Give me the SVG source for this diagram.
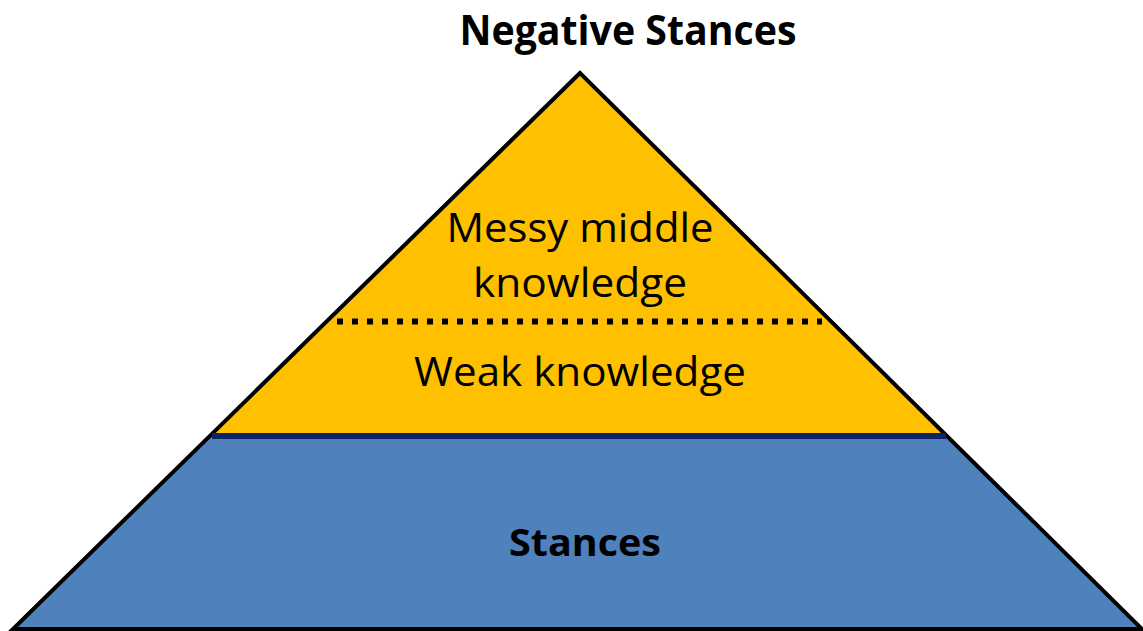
<svg xmlns="http://www.w3.org/2000/svg" width="1143" height="631" viewBox="0 0 1143 631">
  <defs>
    <style>
      .lbl { font-family: "Open Sans", "Liberation Sans", sans-serif; fill: #000; text-anchor: middle; }
      .bold { font-weight: 700; }
    </style>
    <filter id="soft" x="-5%" y="-200%" width="110%" height="500%">
      <feGaussianBlur stdDeviation="1.5"/>
    </filter>
  </defs>

  <rect width="1143" height="631" fill="#ffffff"/>

  <!-- upper band: knowledge levels -->
  <g id="knowledge-band">
    <polygon points="580,73 211,436 946,436" fill="#FFC000"/>
  </g>

  <!-- lower band: stances -->
  <g id="stances-band">
    <polygon points="211,436 946,436 1142,629 13,629" fill="#4F81BD"/>
  </g>

  <!-- pyramid outline -->
  <g id="pyramid-outline">
    <polygon points="580,73 13,629 1142,629" fill="none" stroke="#000" stroke-width="4" stroke-linejoin="miter"/>
  </g>

  <g id="connectors">
    <!-- solid divider between knowledge and stances -->
    <line x1="212" y1="436" x2="946" y2="436" stroke="#0B2463" stroke-width="6"/>
    <!-- dotted divider inside the knowledge band, with soft shadow -->
    <line x1="337" y1="325" x2="822" y2="325" stroke="#8a6a00" stroke-opacity="0.5" stroke-width="6" stroke-dasharray="6,9" filter="url(#soft)"/>
    <line x1="337" y1="321.5" x2="822" y2="321.5" stroke="#000" stroke-width="6" stroke-dasharray="6,9"/>
  </g>

  <g id="title">
    <text class="lbl bold" x="628" y="45" font-size="42" textLength="337" lengthAdjust="spacingAndGlyphs">Negative Stances</text>
  </g>

  <g id="messy-middle">
    <text class="lbl" x="580" y="242" font-size="41" textLength="267" lengthAdjust="spacingAndGlyphs">Messy middle</text>
    <text class="lbl" x="580" y="297" font-size="41" textLength="214" lengthAdjust="spacingAndGlyphs">knowledge</text>
  </g>

  <g id="weak-knowledge">
    <text class="lbl" x="580" y="386" font-size="41" textLength="332" lengthAdjust="spacingAndGlyphs">Weak knowledge</text>
  </g>

  <g id="stances">
    <text class="lbl bold" x="585" y="556" font-size="38" textLength="152" lengthAdjust="spacingAndGlyphs">Stances</text>
  </g>
</svg>
